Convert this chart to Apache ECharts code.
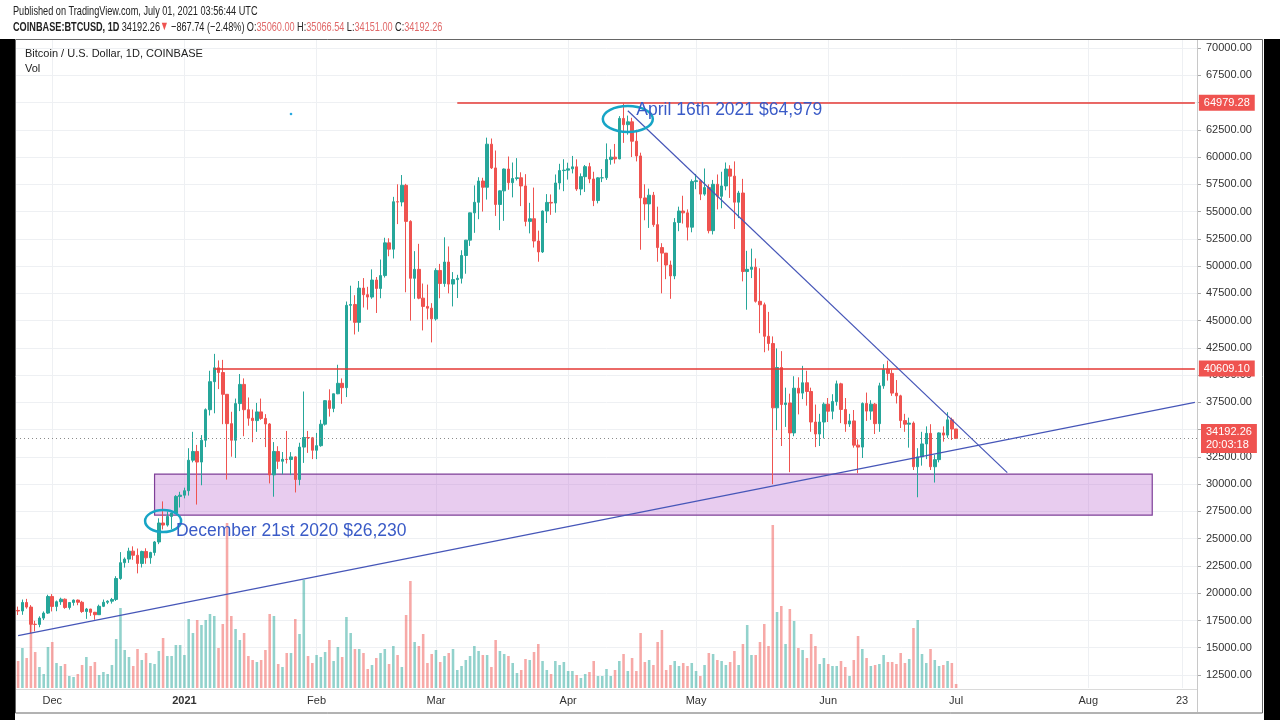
<!DOCTYPE html>
<html><head><meta charset="utf-8">
<script src="https://cdn.jsdelivr.net/npm/echarts@6/dist/echarts.min.js"></script>
<style>html,body{margin:0;padding:0;background:#fff}#c{width:1280px;height:720px}</style>
</head><body><div id="c"></div>
<script>
// ---------- DATA (Coinbase BTC/USD daily, 2020-11-23 .. 2021-07-01) ----------
const opens = [
18420,18370,19150,18730,17150,17140,17720,18180,
19700,18790,19220,19450,18690,19150,19370,19170,18320,18550,18250,18030,18800,19170,19270,19430,21350,22800,23130,23860,23480,22730,23830,23250,23730,24700,26440,26250,27040,27360,28880,
28990,29400,32200,33000,32030,34030,36830,39400,40670,40240,38240,35550,34030,37390,39150,36830,36050,35830,36630,36030,35520,30850,33000,32100,32280,32260,32500,30430,33400,34280,34250,
33110,33530,35500,37660,36950,38290,39250,38850,46400,46480,44840,47980,47380,47160,48720,47950,49130,52130,51550,55900,55880,57410,54100,48880,49700,47060,46300,46140,
45160,49600,48400,50370,48350,48760,48880,50970,52380,54880,55850,57800,57230,61180,59000,55650,56900,58900,57650,58030,58100,57350,54100,54340,52300,51300,55050,55840,55780,57620,58760,
58800,58920,59100,57070,58200,59120,57990,56010,58090,58100,59770,59990,59830,63540,62970,63230,61450,60100,56250,55700,56500,53800,51700,51190,50100,49100,54000,55050,54880,53570,
57750,57830,56600,57200,53250,57500,56400,57350,58900,58250,55860,56700,49500,49700,49900,46770,46450,43560,42900,37000,40700,37300,37450,34700,38800,38350,39300,38500,35700,34600,35700,
37340,36690,37580,39200,36850,35520,35800,33580,33400,37400,36700,37340,35550,39020,40540,40160,38350,38100,35830,35500,35600,31600,32500,33690,34660,31600,32250,34700,34500,35900,
35060
];
const highs = [
18770,19420,19480,18910,17470,17880,18330,19860,
19920,19330,19590,19520,19170,19420,19420,19300,18650,18560,18290,18950,19420,19350,19570,21560,23770,23280,24170,24300,24100,23900,24120,23800,24790,26870,28420,27500,27390,28990,29300,
29680,33300,34800,33600,34500,36950,40400,41950,41350,41400,38260,36640,37850,40100,39700,37950,36850,37450,37850,36420,35600,33860,33480,32950,34880,32940,32560,33800,38500,34880,34330,
34700,35900,37700,38700,38300,40950,39700,46750,48200,47330,48630,48900,48100,49700,49000,50600,52600,52550,56350,57500,58350,57540,54200,51370,52040,48400,48300,46600,
49800,50200,52640,51800,49450,49200,51450,52400,54900,57400,58150,58100,61780,61700,60600,56950,58950,60050,59500,59900,58600,58430,55800,57200,53250,55100,56600,56570,58400,59380,59800,
59480,60100,59790,58500,59270,59470,58650,58150,58900,61250,60700,61200,63750,64900,63800,63600,62500,60400,57500,57100,56800,55450,52100,51200,50500,54400,55450,56450,55200,57950,
58450,57950,58950,57500,57900,58400,58650,59500,59250,59600,56900,58000,51400,51600,50700,49800,46650,45800,43550,42450,42200,38850,38300,39900,39800,40850,40400,38850,37300,36450,37500,
37900,38250,39500,39300,37900,36450,36800,34100,37500,38400,37700,37450,39300,41000,41330,40500,39550,38200,36450,36100,35750,33300,34800,35300,35500,32700,34750,35300,36600,36100,
35066.54
];
const lows = [
18000,18020,18580,16330,16500,16880,17540,18100,
18330,18350,18930,18570,18500,18860,18900,18200,17650,17920,17570,18020,18730,19000,19050,19290,21230,22350,22780,23060,21820,22360,22700,22700,23450,24500,25850,26110,25880,27320,27860,
28700,28950,32000,28130,29900,33400,36300,36500,38720,35500,30420,32520,32400,36700,34400,35360,33850,34800,35900,33400,30070,28850,31400,30900,31900,30830,29240,29900,31950,32870,32300,
32300,33430,35370,36200,36600,38250,37370,37990,45000,43730,43980,46200,46000,47000,45700,47050,48950,50900,50700,53850,55480,47600,45000,47000,46960,44100,45100,43000,
45000,47050,48100,47500,46300,47070,48400,49300,51850,53050,54300,55000,56100,58900,54600,53300,54150,57000,56300,57850,55500,53650,53000,51700,50400,51200,53950,54700,54900,57020,56870,
57930,58500,56900,56500,56800,57600,55500,55750,57700,57900,59300,59400,59800,61300,62050,60000,59600,51500,54200,53500,53600,50400,47500,48800,47000,48800,53200,53900,52350,53100,
57050,56050,56450,53000,52900,55200,55300,56950,56250,53400,54400,48600,46000,48900,46650,43850,42100,42250,30000,34950,33500,35250,31100,34400,36400,37800,37200,34800,33400,33500,34200,
35700,35950,37200,35600,34800,35250,33350,31000,32400,35800,35900,34600,34800,38750,39500,38100,37400,35150,34800,33350,31300,28800,31700,32300,31300,30150,32000,33900,34250,34050,
34151
];
const closes = [
18370,19150,18730,17150,17140,17720,18180,19700,
18790,19220,19450,18690,19150,19370,19170,18320,18550,18250,18030,18800,19170,19270,19430,21350,22800,23130,23860,23480,22730,23830,23250,23730,24700,26440,26250,27040,27360,28880,28990,
29400,32200,33000,32030,34030,36830,39400,40670,40240,38240,35550,34030,37390,39150,36830,36050,35830,36630,36030,35520,30850,33000,32100,32280,32260,32500,30430,33400,34280,34250,33110,
33530,35500,37660,36950,38290,39250,38850,46400,46480,44840,47980,47380,47160,48720,47950,49130,52130,51550,55900,55880,57410,54100,48880,49700,47060,46300,46140,45160,
49600,48400,50370,48350,48760,48880,50970,52380,54880,55850,57800,57230,61180,59000,55650,56900,58900,57650,58030,58100,57350,54100,54340,52300,51300,55050,55840,55780,57620,58760,58800,
58920,59100,57070,58200,59120,57990,56010,58090,58100,59770,59990,59830,63540,62970,63230,61450,60100,56250,55700,56500,53800,51700,51190,50100,49100,54000,55050,54880,53570,57750,
57830,56600,57200,53250,57500,56400,57350,58900,58250,55860,56700,49500,49700,49900,46770,46450,43560,42900,37000,40700,37300,37450,34700,38800,38350,39300,38500,35700,34600,35700,37340,
36690,37580,39200,36850,35520,35800,33580,33400,37400,36700,37340,35550,39020,40540,40160,38350,38100,35830,35500,35600,31600,32500,33690,34660,31600,32250,34700,34500,35900,35060,
34192.26
];
// volume (relative units)
const volumes = [
27,40,30,80,36,21,14,41,46,25,22,24,12,11,14,23,31,22,26,13,16,14,23,49,80,38,31,22,39,28,35,25,24,37,50,32,32,43,43,33,69,55,68,63,68,74,72,40,64,165,72,59,48,55,32,
28,26,28,38,74,72,24,21,35,35,69,54,108,32,25,33,31,36,48,27,41,31,71,55,39,39,35,19,23,30,35,39,24,42,33,21,73,107,46,42,54,25,34,38,26,32,35,39,18,22,28,32,42,37,33,33,21,
48,37,34,32,25,15,18,29,28,36,44,27,18,14,27,23,26,17,17,13,10,14,16,27,12,12,19,12,18,27,34,17,30,17,55,26,28,23,46,58,18,23,27,22,25,22,25,17,12,23,35,34,28,27,23,
26,37,23,44,63,33,33,46,64,42,163,76,82,44,79,67,40,38,30,54,42,24,30,24,22,22,27,21,12,28,52,39,30,22,23,24,33,26,26,24,35,25,29,60,68,34,25,39,28,22,23,27,25,4
];
const tickDates  = ['2020-12-01','2021-01-01','2021-02-01','2021-03-01','2021-04-01','2021-05-01','2021-06-01','2021-07-01','2021-08-01','2021-08-23'];
const tickLabels = ['Dec','2021','Feb','Mar','Apr','May','Jun','Jul','Aug','23'];

// drawings
const levelLines   = [{from:'2021-03-06', price:64979.28, label:'64979.28'}, {from:'2021-01-08', price:40609.10, label:'40609.10'}];
const lastPrice    = 34192.26;
const countdown    = '20:03:18';
const supportZone  = {from:'2020-12-25', to:'2021-08-16', top:30930, bottom:27170};
const risingTrend  = [['2020-11-23',16114],['2021-08-26',37504]];
const fallingTrend = [['2021-04-15',64250],['2021-07-13',31060]];
const notes   = [{at:'2021-04-17', price:64314, text:'April 16th 2021 $64,979'}, {at:'2020-12-30', price:25704, text:'December 21st 2020 $26,230'}];
const circles = [{at:'2021-04-15', price:63490, rx:25, ry:13}, {at:'2020-12-27', price:26620, rx:18, ry:11}];
const dot     = {at:'2021-01-26', price:63947};

// ---------- categories (daily) ----------
const categories = [];
for (let t = Date.UTC(2020,10,23); t <= Date.UTC(2021,7,26); t += 86400000) {
  categories.push(new Date(t).toISOString().slice(0,10));
}
const lastCat = categories[categories.length-1];
const tickMap = {};
tickDates.forEach((d,i)=>{ tickMap[d] = tickLabels[i]; });

const UP='#26a69a', DOWN='#ef5350';
const VUP='rgba(38,166,154,0.5)', VDOWN='rgba(239,83,80,0.5)';
const FONT="'Liberation Sans', Arial, sans-serif";

const candleData = closes.map((c,i)=>[opens[i], c, lows[i], highs[i]]);
const volData = volumes.map((v,i)=>({value:v, itemStyle:{color: closes[i]>=opens[i]?VUP:VDOWN}}));

const redLabel = (txt)=>({show:true, position:'end', distance:4, formatter:txt, color:'#fff', backgroundColor:'#ef5350',
  padding:[2,5,1,5], fontSize:11, fontFamily:FONT, lineHeight:13});

const chart = echarts.init(document.getElementById('c'));
const staticGraphics = [
  {type:'rect', shape:{x:0,y:39,width:15,height:681}, style:{fill:'#000'}},
  {type:'rect', shape:{x:1264,y:39,width:16,height:681}, style:{fill:'#000'}},
  {type:'rect', shape:{x:15.5,y:39.5,width:1247,height:673.5}, style:{fill:'none', stroke:'#666', lineWidth:1}, z:50},
  {type:'line', shape:{x1:1197.5,y1:40,x2:1197.5,y2:712}, style:{stroke:'#c8c8c8', lineWidth:1}, z:50},
  {type:'line', shape:{x1:16,y1:689.5,x2:1197,y2:689.5}, style:{stroke:'#dadada', lineWidth:1}, z:50},
  {type:'text', x:13, y:11, scaleX:0.705, style:{text:'Published on TradingView.com, July 01, 2021 03:56:44 UTC', fill:'#222', font:'13px '+FONT, verticalAlign:'middle'}},
  {type:'text', x:13, y:27, scaleX:0.705, style:{
    text:'{a|COINBASE:BTCUSD, 1D} {n|34192.26}{r|▼} {n|−867.74 (−2.48%)} {n|O:}{v|35060.00} {n|H:}{v|35066.54} {n|L:}{v|34151.00} {n|C:}{v|34192.26}',
    verticalAlign:'middle',
    rich:{a:{fill:'#222', font:'bold 13px '+FONT}, n:{fill:'#222', font:'13px '+FONT}, r:{fill:'#ef5350', font:'12.5px '+FONT}, v:{fill:'#e06a6a', font:'13px '+FONT}}
  }},
  {type:'text', x:25, y:54, style:{text:'Bitcoin / U.S. Dollar, 1D, COINBASE', fill:'#222', font:'11px '+FONT, verticalAlign:'middle'}, z:60},
  {type:'text', x:25, y:69, style:{text:'Vol', fill:'#222', font:'11px '+FONT, verticalAlign:'middle'}, z:60}
];

const option = {
  animation:false,
  backgroundColor:'#fff',
  textStyle:{fontFamily:FONT},
  grid:[
    {left:16, right:83, top:48, bottom:45, containLabel:false, outerBoundsMode:'none'},
    {left:16, right:83, top:40, bottom:32, containLabel:false, outerBoundsMode:'none'}
  ],
  xAxis:[
    {type:'category', gridIndex:0, data:categories, boundaryGap:true, show:false},
    {type:'category', gridIndex:1, data:categories, boundaryGap:true,
     axisLine:{show:false}, axisTick:{show:false},
     axisLabel:{interval:(i,v)=>tickMap[v]!==undefined, hideOverlap:false,
       formatter:(v)=>{const t=tickMap[v]; return t==='2021' ? '{b|2021}' : (t||'');},
       color:'#333', fontSize:11, fontFamily:FONT, margin:7,
       rich:{b:{fontWeight:'bold', fontSize:11, color:'#333', fontFamily:FONT}}},
     splitLine:{show:true, interval:(i,v)=>tickMap[v]!==undefined, alignWithLabel:true, lineStyle:{color:'#eef0f3', width:1}}}
  ],
  yAxis:[
    {type:'value', gridIndex:0, position:'right', min:12500, max:70000, interval:2500, scale:false,
     axisLine:{show:false}, axisTick:{show:true, length:4, lineStyle:{color:'#aaa'}},
     axisLabel:{formatter:(v)=>v.toFixed(2), color:'#333', fontSize:11, fontFamily:FONT, margin:9, hideOverlap:false},
     splitLine:{show:true, lineStyle:{color:'#eef0f3', width:1}}},
    {type:'value', gridIndex:1, min:0, max:648, show:false, splitLine:{show:false}}
  ],
  series:[
    {type:'bar', name:'Vol', xAxisIndex:1, yAxisIndex:1, data:volData, barWidth:'60%', z:1, silent:true},
    {type:'candlestick', name:'BTCUSD', xAxisIndex:0, yAxisIndex:0, data:candleData, barWidth:3, clip:false, z:3, silent:true,
     itemStyle:{color:UP, color0:DOWN, borderColor:UP, borderColor0:DOWN, borderWidth:1},
     markArea:{silent:true, z:2,
       itemStyle:{color:'rgba(190,110,210,0.35)', borderColor:'#7e3f98', borderWidth:1.2},
       data:[[{coord:[supportZone.from, supportZone.top]}, {coord:[supportZone.to, supportZone.bottom]}]]},
     markLine:{silent:true, symbol:['none','none'], animation:false, z:6,
       data:[
         [{coord:[levelLines[0].from, levelLines[0].price], lineStyle:{color:'#e53935', width:1.6, type:'solid'}, label:redLabel(levelLines[0].label)},
          {coord:[lastCat, levelLines[0].price]}],
         [{coord:[levelLines[1].from, levelLines[1].price], lineStyle:{color:'#e53935', width:1.6, type:'solid'}, label:redLabel(levelLines[1].label)},
          {coord:[lastCat, levelLines[1].price]}],
         {yAxis:lastPrice, lineStyle:{color:'#8a8a8a', width:1, type:[1,3]}, label:redLabel(lastPrice.toFixed(2)+'\n'+countdown)},
         [{coord:risingTrend[0], lineStyle:{color:'#4656b8', width:1.2, type:'solid'}, label:{show:false}}, {coord:risingTrend[1]}],
         [{coord:fallingTrend[0], lineStyle:{color:'#4656b8', width:1.2, type:'solid'}, label:{show:false}}, {coord:fallingTrend[1]}]
       ]}
    }
  ],
  graphic: staticGraphics
};
chart.setOption(option);

// annotations anchored to data coordinates
const px = (cat, price)=>chart.convertToPixel({seriesIndex:1}, [cat, price]);
const ann = [];
circles.forEach(c=>{
  const p = px(c.at, c.price);
  ann.push({type:'ellipse', shape:{cx:p[0], cy:p[1], rx:c.rx, ry:c.ry}, style:{fill:'none', stroke:'#17a5c6', lineWidth:2.5}, z:70});
});
notes.forEach(n=>{
  const p = px(n.at, n.price);
  ann.push({type:'text', x:p[0], y:p[1], style:{text:n.text, fill:'#3a5bc7', font:'17.5px '+FONT, verticalAlign:'middle', align:'left'}, z:71});
});
{ const p = px(dot.at, dot.price);
  ann.push({type:'circle', shape:{cx:p[0], cy:p[1], r:1.3}, style:{fill:'#29a9e0'}, z:70}); }
chart.setOption({graphic: staticGraphics.concat(ann)});
</script></body></html>
